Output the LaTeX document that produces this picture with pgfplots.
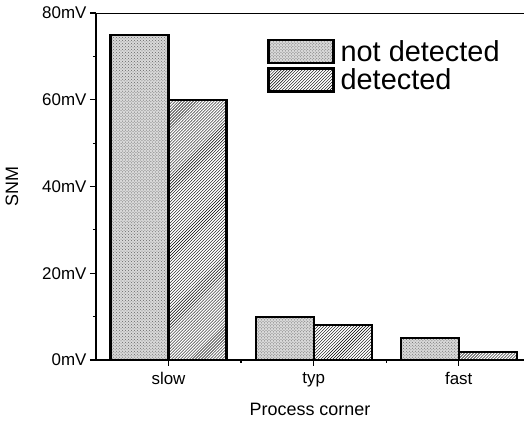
\documentclass[border=0pt]{standalone}
\usepackage{pgfplots}
\pgfplotsset{compat=1.18}
\usepackage{fontspec}
\setmainfont{Liberation Sans}
\usetikzlibrary{patterns}
\begin{document}
\begin{tikzpicture}
\begin{axis}[
  scale only axis,
  width=428bp, height=347bp,
  ybar=0pt, bar width=58bp,
  xmin=-0.5, xmax=2.45,
  ymin=0, ymax=80,
  axis x line*=bottom, axis y line*=left,
  axis line style={line width=1.6bp},
  xtick={0,1,2}, xticklabels={slow,typ,fast},
  minor xtick={0.5,1.5},
  ytick={0,20,40,60,80}, yticklabels={0mV,20mV,40mV,60mV,80mV},
  minor ytick={10,30,50,70},
  tick align=outside,
  major tick length=6bp, minor tick length=3bp,
  tick style={line width=1.2bp, black},
  ticklabel style={font=\fontsize{17}{20}\selectfont},
  xticklabel style={yshift=-3bp},
  xlabel={Process corner}, ylabel={SNM},
  label style={font=\fontsize{18}{21}\selectfont},
  xlabel style={yshift=-9bp},
  ylabel style={yshift=17bp},
  every axis plot post/.append style={legend image code/.code={\draw[#1] (0bp,-11.5bp) rectangle (65bp,11.5bp);}},
  legend style={draw=none, fill=none, at={(0.40,0.925)}, anchor=north west,
    font=\fontsize{29}{29}\selectfont, row sep=3bp, inner sep=0pt,
    nodes={inner xsep=6bp, inner ysep=1bp}},
  legend cell align=left,
]
\addplot[draw=black, line width=2.2bp, fill=gray!30,
  postaction={pattern=crosshatch dots, pattern color=gray!80!black}]
  coordinates {(0,75) (1,10) (2,5)};
\addlegendentry{not detected}
\addplot[draw=black, line width=2.2bp, fill=white,
  postaction={pattern=north east lines}]
  coordinates {(0,60) (1,8) (2,1.8)};
\addlegendentry{detected}
\draw[line width=0.8bp] (rel axis cs:0,1) -- (rel axis cs:1,1);
\coordinate (sw) at (rel axis cs:0,0);
\coordinate (ne) at (rel axis cs:1,1);
\end{axis}
\pgfresetboundingbox
\path[use as bounding box] ([shift={(-96bp,-66bp)}]sw) rectangle ([shift={(0bp,13bp)}]ne);
\end{tikzpicture}
\end{document}
